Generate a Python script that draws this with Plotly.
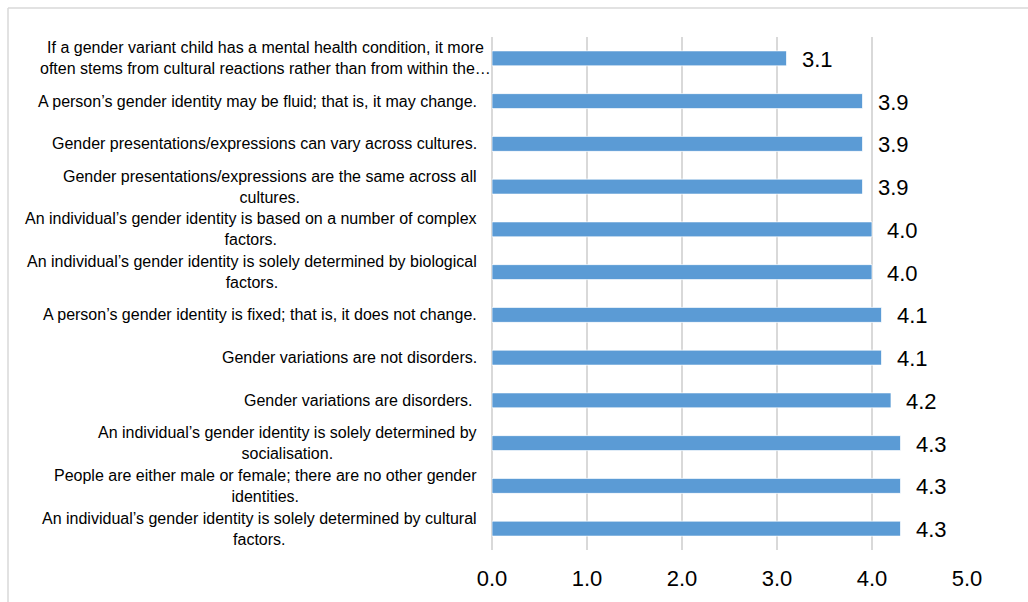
import plotly.graph_objects as go

# Survey statements (top to bottom) and their mean scores
statements = [
    "If a gender variant child has a mental health condition, it more<br>often stems from cultural reactions rather than from within the…",
    "A person’s gender identity may be fluid; that is, it may change.",
    "Gender presentations/expressions can vary across cultures.",
    "Gender presentations/expressions are the same across all<br>cultures.",
    "An individual’s gender identity is based on a number of complex<br>factors.",
    "An individual’s gender identity is solely determined by biological<br>factors.",
    "A person’s gender identity is fixed; that is, it does not change.",
    "Gender variations are not disorders.",
    "Gender variations are disorders.\u00a0",
    "An individual’s gender identity is solely determined by<br>socialisation.",
    "People are either male or female; there are no other gender<br>identities.",
    "An individual’s gender identity is solely determined by cultural<br>factors.",
]
scores = [3.1, 3.9, 3.9, 3.9, 4.0, 4.0, 4.1, 4.1, 4.2, 4.3, 4.3, 4.3]
x_ticks = [0, 1, 2, 3, 4, 5]
x_tick_labels = ["0.0", "1.0", "2.0", "3.0", "4.0", "5.0"]

FONT = "Arial, Liberation Sans, sans-serif"
BAR = "#5B9BD5"
GRID = "#D9D9D9"

W, H = 1028, 602
L, R, T, B = 492, 61, 37, 52
pw, ph = W - L - R, H - T - B

fig = go.Figure(
    go.Bar(
        x=scores,
        y=statements,
        orientation="h",
        marker=dict(color=BAR, line=dict(color="rgba(255,255,255,0.7)", width=1)),
        hoverinfo="x",
    )
)

annotations = []
for s, v in zip(statements, scores):
    # truncated statements overflow slightly toward the axis
    shift = 1 if s.endswith("…") else -13
    annotations.append(dict(
        x=0, xref="paper", y=s, yref="y", text=s, showarrow=False,
        xanchor="right", yanchor="middle", align="center", xshift=shift,
        font=dict(family=FONT, size=16, color="#000000"),
    ))
    # value label beyond the bar end
    annotations.append(dict(
        x=v, xref="x", y=s, yref="y", text=f"{v:.1f}", showarrow=False,
        xanchor="left", yanchor="middle", xshift=13, yshift=-1,
        font=dict(family=FONT, size=22, color="#000000"),
    ))

# outer chart frame (top and left edges visible)
fx0 = (8 - L) / pw
fy1 = (H - B - 8) / ph
shapes = [
    dict(type="line", xref="paper", yref="paper", x0=fx0, x1=(W - L + 20) / pw,
         y0=fy1, y1=fy1, line=dict(color=GRID, width=1.5)),
    dict(type="line", xref="paper", yref="paper", x0=fx0, x1=fx0,
         y0=fy1, y1=-(B + 20) / ph, line=dict(color=GRID, width=1.5)),
]

fig.update_layout(
    width=W, height=H,
    margin=dict(l=L, r=R, t=T, b=B),
    paper_bgcolor="white", plot_bgcolor="white",
    bargap=0.65,
    showlegend=False,
    annotations=annotations,
    shapes=shapes,
    font=dict(family=FONT, color="#000000"),
    xaxis=dict(
        range=[0, 5], tickvals=x_ticks, ticktext=x_tick_labels,
        showgrid=True, gridcolor=GRID, gridwidth=1.5,
        zeroline=True, zerolinecolor=GRID, zerolinewidth=1.5,
        showline=False, ticks="", ticklabelstandoff=13,
        tickfont=dict(family=FONT, size=22, color="#000000"),
        fixedrange=True,
    ),
    yaxis=dict(
        categoryorder="array", categoryarray=statements, autorange="reversed",
        showticklabels=False, showgrid=False, zeroline=False, showline=False,
        ticks="", fixedrange=True,
    ),
)

fig.write_html("out.html")
